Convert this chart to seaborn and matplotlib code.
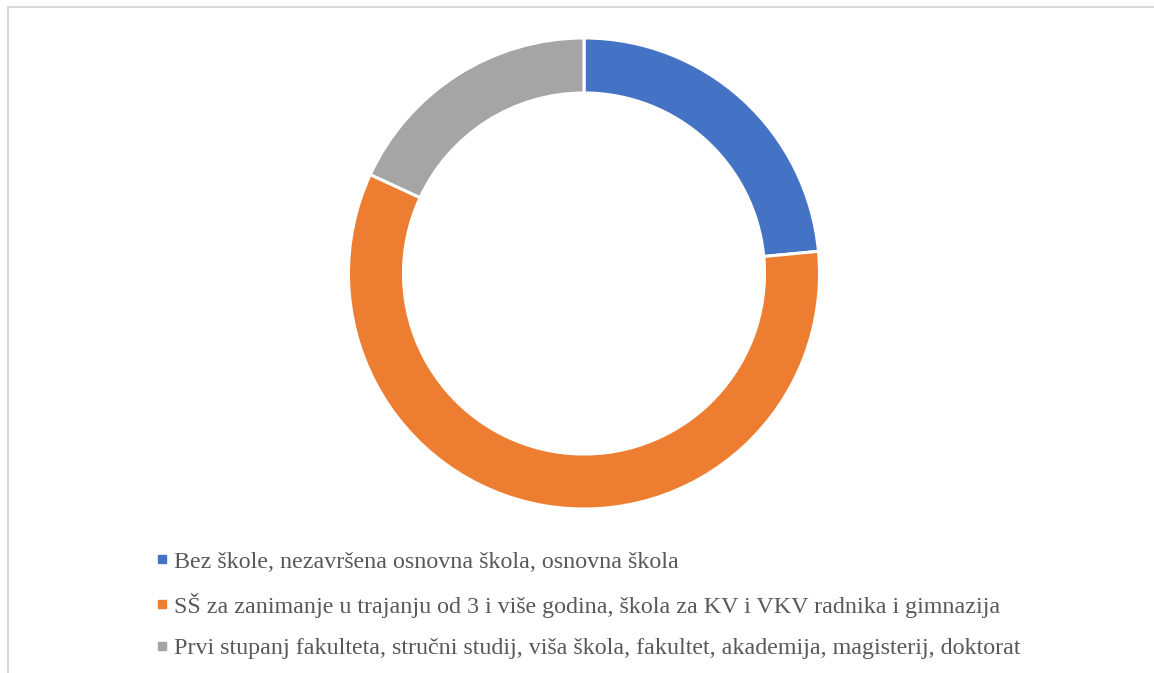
import matplotlib
matplotlib.use("Agg")
import matplotlib.pyplot as plt
import seaborn as sns
from matplotlib.patches import Rectangle
from matplotlib.lines import Line2D

categories = [
    "Bez škole, nezavršena osnovna škola, osnovna škola",
    "SŠ za zanimanje u trajanju od 3 i više godina, škola za KV i VKV radnika i gimnazija",
    "Prvi stupanj fakulteta, stručni studij, viša škola, fakultet, akademija, magisterij, doktorat",
]
values = [23.5, 58.4, 18.1]
colors = ["#4472C4", "#ED7D31", "#A5A5A5"]

sns.set_theme(style="white")
plt.rcParams['font.family'] = ['Liberation Serif', 'DejaVu Serif']

W, H = 1154, 673
fig = plt.figure(figsize=(W / 100, H / 100), dpi=100)
fig.patch.set_facecolor("white")

# chart border (cropped frame)
fig.patches.append(Rectangle((7.5 / W, -0.1), 1.2, (H - 7) / H + 0.1,
                             transform=fig.transFigure, fill=False,
                             edgecolor="#D9D9D9", linewidth=1.5))

cx, cy, R = 584, 273.5, 236
ax = fig.add_axes([(cx - R) / W, (H - cy - R) / H, 2 * R / W, 2 * R / H])
wedges, _ = ax.pie(values, colors=colors, startangle=90, counterclock=False,
                   radius=0.998,
                   wedgeprops=dict(width=0.233, edgecolor="white", linewidth=2.2))
ax.set_xlim(-1, 1)
ax.set_ylim(-1, 1)
ax.set_aspect("equal")
ax.axis("off")

handles = [Line2D([0], [0], marker="s", linestyle="none", markersize=5.3,
                  markerfacecolor=c, markeredgecolor=c) for c in colors]
leg = fig.legend(handles, categories, loc="upper left",
                 bbox_to_anchor=(158 / W, 1 - 551 / H), frameon=False,
                 fontsize=17.3, handlelength=0.35, handletextpad=0.3,
                 labelspacing=0.82, borderpad=0, borderaxespad=0)
for t in leg.get_texts():
    t.set_color("#595959")

fig.savefig("out.png", dpi=100, facecolor="white")
